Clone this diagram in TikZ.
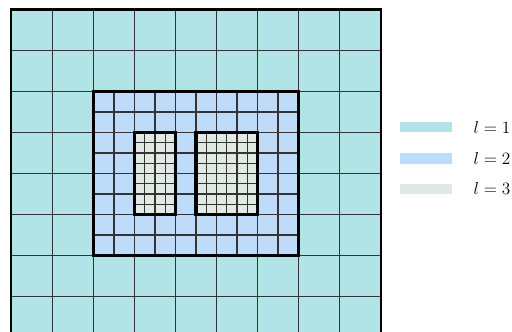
\documentclass[tikz,border=0pt]{standalone}
\usepackage{tikz}
\usetikzlibrary{positioning}
\definecolor{levelone}{HTML}{B1E4E7}
\definecolor{leveltwo}{HTML}{BEDCFA}
\definecolor{levelthree}{HTML}{E1E9E5}

\begin{document}
\begin{tikzpicture}[
    gridline/.style={draw=black!80, line width=0.9pt},
    patch/.style={draw=black, line width=2.1pt},
    swatch/.style={minimum width=1.26cm, minimum height=0.26cm, inner sep=0pt},
    lbl/.style={font=\fontsize{11.5}{13}\selectfont, inner sep=0pt}
  ]
  \useasboundingbox (-0.28,0.159) rectangle (12.207,8.232);
  % level 1: coarse base grid
  \fill[levelone] (0,0) rectangle (9,8);
  \draw[gridline] (0,0) grid (9,8);
  \draw[line width=1.4pt] (0,0) rectangle (9,8);
  % level 2
  \fill[leveltwo] (2,2) rectangle (7,6);
  \draw[gridline, step=0.5] (2,2) grid (7,6);
  \draw[patch] (2,2) rectangle (7,6);
  % level 3
  \foreach \xa/\xb in {3/4, 4.5/6} {
    \fill[levelthree] (\xa,3) rectangle (\xb,5);
    \draw[gridline, step=0.25] (\xa,3) grid (\xb,5);
    \draw[patch] (\xa,3) rectangle (\xb,5);
  }
  % legend
  \node[swatch, fill=levelone] (sw1) at (10.107,5.134) {};
  \node[swatch, fill=leveltwo, below=0.49cm of sw1] (sw2) {};
  \node[swatch, fill=levelthree, below=0.47cm of sw2] (sw3) {};
  \node[lbl, right=0.52cm of sw1] (l1) {$l=1$};
  \node[lbl, right=0.52cm of sw2] (l2) {$l=2$};
  \node[lbl, right=0.52cm of sw3] (l3) {$l=3$};
\end{tikzpicture}
\end{document}
